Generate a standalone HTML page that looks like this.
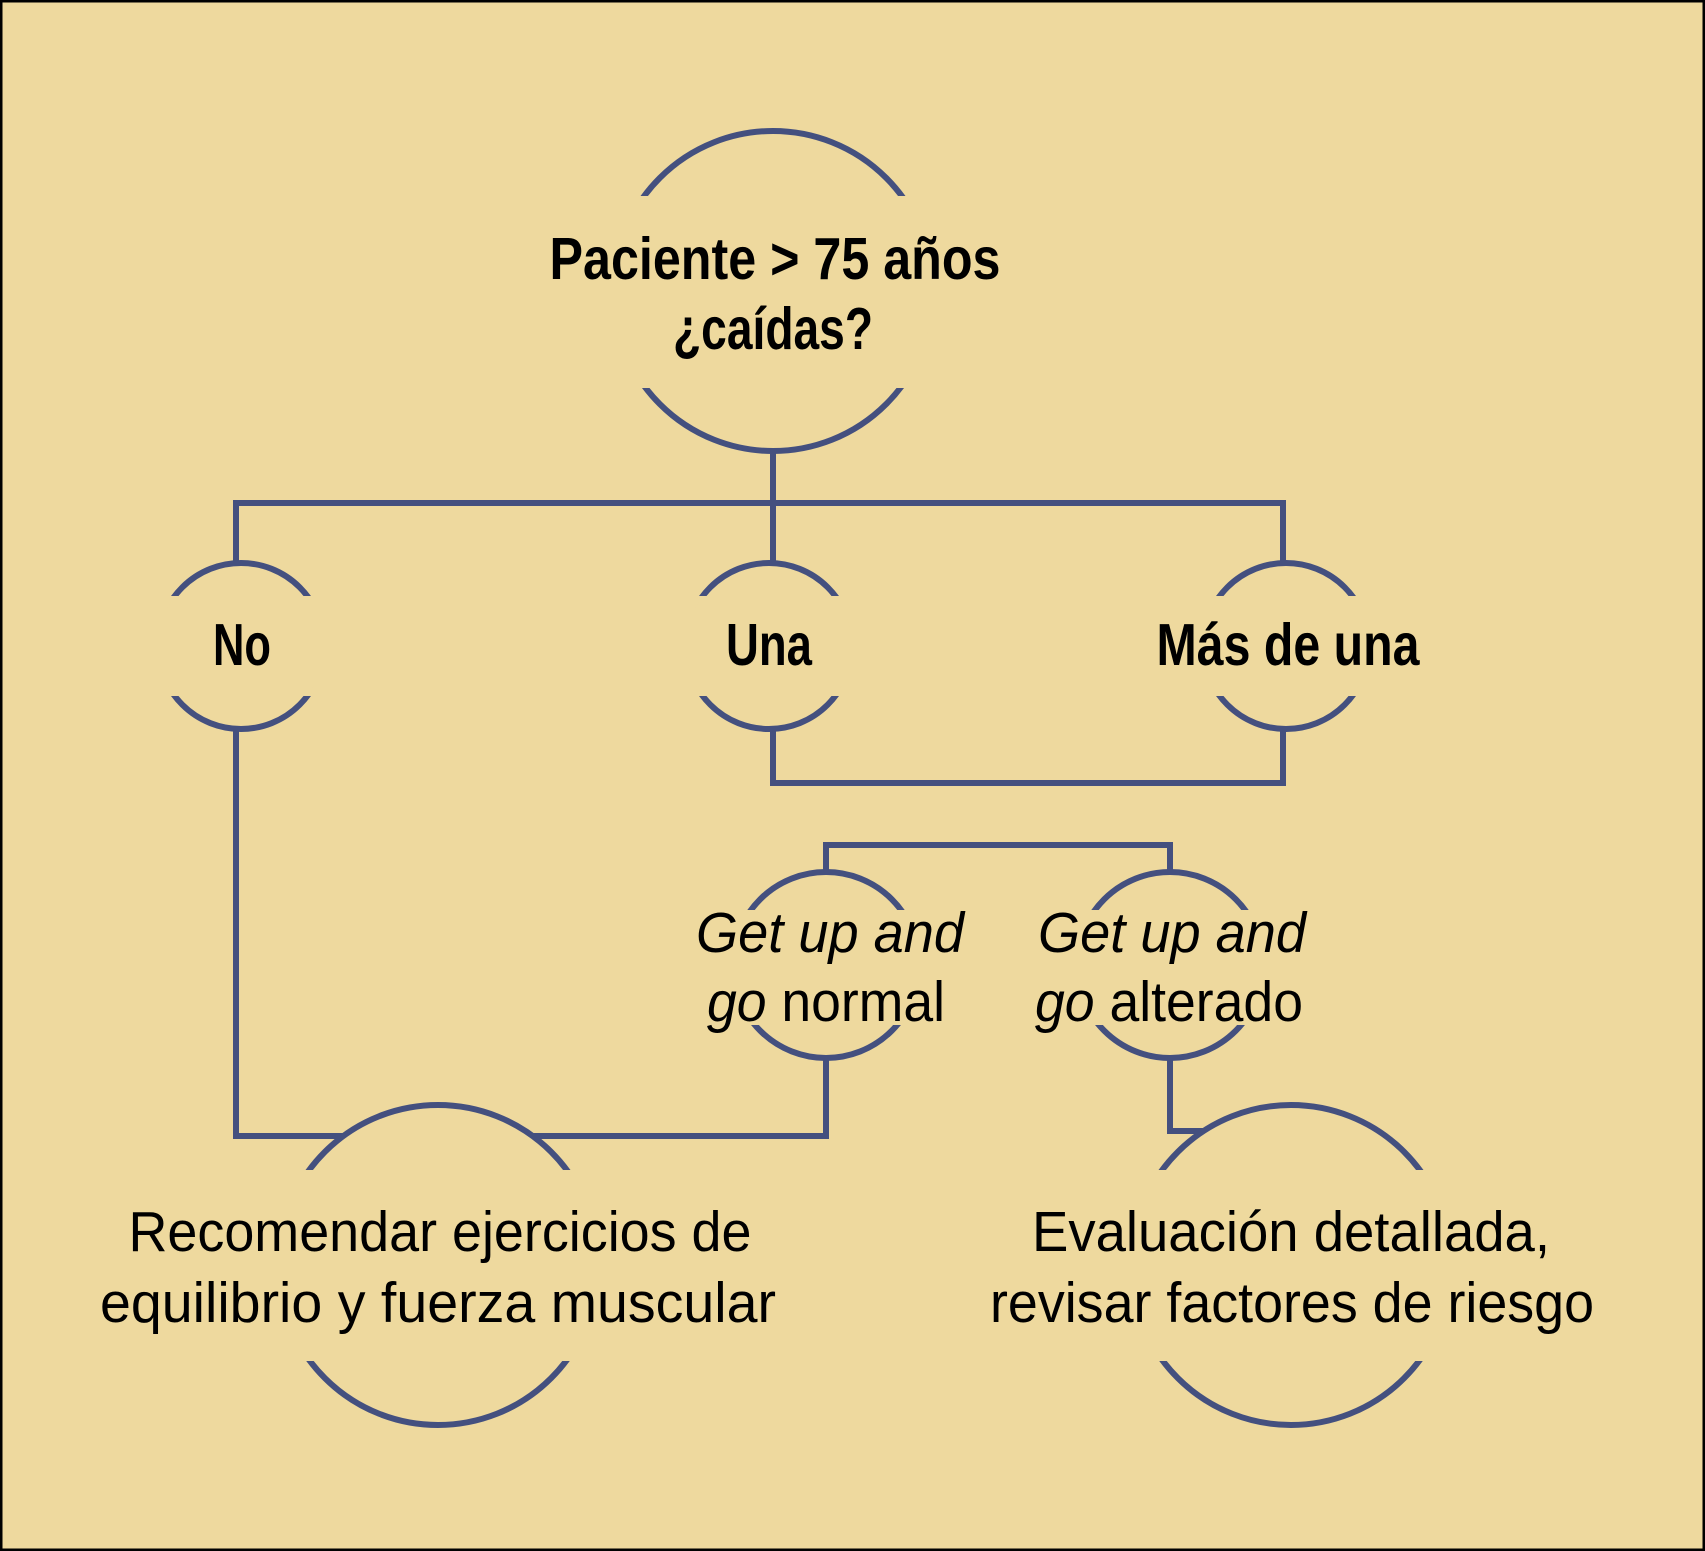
<!DOCTYPE html>
<html><head><meta charset="utf-8"><style>
html,body{margin:0;padding:0;background:#eed99e}
svg{display:block}
text{font-family:"Liberation Sans",sans-serif;fill:#000}
</style></head><body>
<svg width="1705" height="1551" viewBox="0 0 1705 1551" xmlns="http://www.w3.org/2000/svg">
<defs>
<clipPath id="cTop"><rect x="0" y="0" width="1705" height="196"/><rect x="0" y="388" width="1705" height="200"/></clipPath>
<clipPath id="cSm"><rect x="0" y="0" width="1705" height="596"/><rect x="0" y="696" width="1705" height="200"/></clipPath>
<clipPath id="cGu"><rect x="0" y="800" width="1705" height="110"/><rect x="0" y="1025" width="1705" height="100"/></clipPath>
<clipPath id="cBot"><rect x="0" y="1080" width="1705" height="90"/><rect x="0" y="1361" width="1705" height="200"/></clipPath>
</defs>
<rect x="1" y="1" width="1703" height="1549" fill="#eed99e" stroke="#000" stroke-width="3"/>
<g stroke="#44507f" stroke-width="6" fill="none">
<polyline points="773,451 773,503"/>
<polyline points="236,563 236,503 1283,503 1283,563"/>
<polyline points="773,503 773,563"/>
<polyline points="773,729 773,783 1283,783 1283,729"/>
<polyline points="826,873 826,845 1170,845 1170,873"/>
<polyline points="236,729 236,1136 826,1136 826,1057"/>
<polyline points="1170,1057 1170,1131 1210,1131"/>
</g>
<g fill="#eed99e" stroke="none">
<circle cx="773" cy="291" r="160"/>
<circle cx="241" cy="646" r="83"/><circle cx="769" cy="646" r="83"/><circle cx="1286" cy="646" r="83"/>
<circle cx="826" cy="965" r="93"/><circle cx="1170" cy="965" r="93"/>
<circle cx="438" cy="1265" r="160"/><circle cx="1291" cy="1265" r="160"/>
</g>
<g stroke="#44507f" stroke-width="6" fill="none">
<circle cx="773" cy="291" r="160" clip-path="url(#cTop)"/>
<g clip-path="url(#cSm)"><circle cx="241" cy="646" r="83"/><circle cx="769" cy="646" r="83"/><circle cx="1286" cy="646" r="83"/></g>
<g clip-path="url(#cGu)"><circle cx="826" cy="965" r="93"/><circle cx="1170" cy="965" r="93"/></g>
<g clip-path="url(#cBot)"><circle cx="438" cy="1265" r="160"/><circle cx="1291" cy="1265" r="160"/></g>
</g>
<g font-weight="bold" font-size="59" text-anchor="middle">
<text x="775" y="279" textLength="451" lengthAdjust="spacingAndGlyphs">Paciente &gt; 75 años</text>
<text x="773" y="349" textLength="200" lengthAdjust="spacingAndGlyphs">¿caídas?</text>
<text x="242" y="665" textLength="58" lengthAdjust="spacingAndGlyphs">No</text>
<text x="769" y="665" textLength="86" lengthAdjust="spacingAndGlyphs">Una</text>
<text x="1288" y="665" textLength="263" lengthAdjust="spacingAndGlyphs">Más de una</text>
</g>
<g font-size="57" text-anchor="middle">
<text x="830" y="952" font-style="italic" textLength="268" lengthAdjust="spacingAndGlyphs">Get up and</text>
<text x="826" y="1021" textLength="238" lengthAdjust="spacingAndGlyphs"><tspan font-style="italic">go</tspan> normal</text>
<text x="1172" y="952" font-style="italic" textLength="268" lengthAdjust="spacingAndGlyphs">Get up and</text>
<text x="1169" y="1021" textLength="268" lengthAdjust="spacingAndGlyphs"><tspan font-style="italic">go</tspan> alterado</text>
<text x="440" y="1251" textLength="623" lengthAdjust="spacingAndGlyphs">Recomendar ejercicios de</text>
<text x="438" y="1322" textLength="676" lengthAdjust="spacingAndGlyphs">equilibrio y fuerza muscular</text>
<text x="1291" y="1251" textLength="518" lengthAdjust="spacingAndGlyphs">Evaluación detallada,</text>
<text x="1292" y="1322" textLength="604" lengthAdjust="spacingAndGlyphs">revisar factores de riesgo</text>
</g>
</svg>
</body></html>
